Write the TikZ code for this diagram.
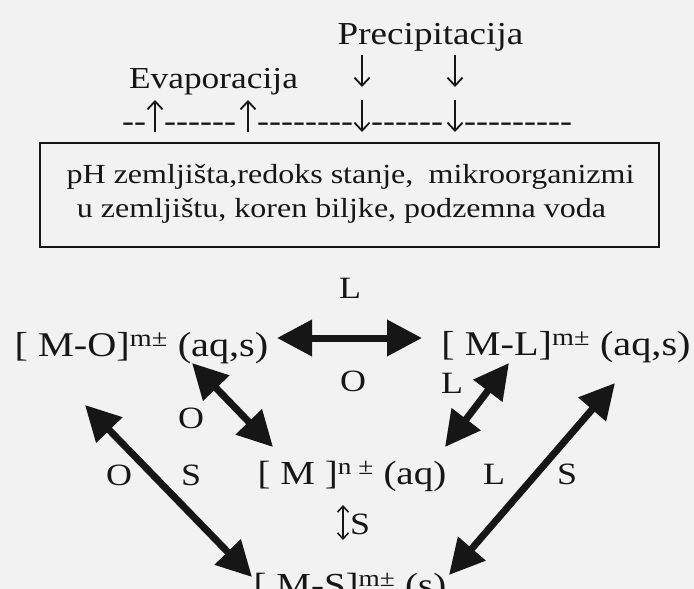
\documentclass[tikz,border=0pt]{standalone}
\usepackage{fontspec}
\setmainfont{Liberation Serif}[FakeStretch=1.16]
\usetikzlibrary{arrows.meta}
\definecolor{bgc}{RGB}{242,242,242}
\definecolor{ink}{RGB}{22,22,22}
\newcommand\hy{\mbox{-}}
\begin{document}
\begin{tikzpicture}[x=1pt,y=-1pt,
  lbl/.style={anchor=base,inner sep=0pt,text=ink,font=\fontsize{31}{33}\selectfont},
  spc/.style={anchor=base,inner sep=0pt,text=ink,font=\fontsize{34.7}{36}\selectfont},
  boxtext/.style={anchor=base,inner sep=0pt,text=ink,font=\fontsize{27.6}{29}\selectfont},
  dashes/.style={anchor=base west,inner sep=0pt,text=ink,font=\fontsize{31}{32}\selectfont},
  thin/.style={draw=ink,line width=1.8pt,-{Straight Barb[length=8pt,width=15pt]}},
  thinboth/.style={draw=ink,line width=1.6pt,{Straight Barb[length=6pt,width=11pt]}-{Straight Barb[length=6pt,width=11pt]}},
  big/.style={draw=ink,line width=7pt,{Triangle[length=35pt,width=35pt]}-{Triangle[length=35pt,width=35pt]}},
]
\useasboundingbox (0,0) rectangle (694,589);
\fill[bgc] (0,0) rectangle (694,589);
% top texts
\node[lbl,font=\fontsize{32}{34}\selectfont] (prec) at (430.5,45) {Precipitacija};
\node[lbl,font=\fontsize{30.5}{32}\selectfont] (evap) at (213.5,88) {Evaporacija};
% glyph-like arrows of the first two lines
\coordinate (p1t) at (362,55);  \coordinate (p1b) at (362,87);
\coordinate (p2t) at (455,55);  \coordinate (p2b) at (455,87);
\draw[thin] (p1t) -- (p1b);
\draw[thin] (p2t) -- (p2b);
% dashed line
\node[dashes] (s1) at (122,131) {\hy\hy};
\node[dashes] (s2) at (164,131) {\hy\hy\hy\hy\hy\hy};
\node[dashes] (s3) at (257,131) {\hy\hy\hy\hy\hy\hy\hy\hy};
\node[dashes] (s4) at (371,131) {\hy\hy\hy\hy\hy\hy};
\node[dashes] (s5) at (464,131) {\hy\hy\hy\hy\hy\hy\hy\hy\hy};
\coordinate (u1b) at (155,132); \coordinate (u1t) at (155,100);
\coordinate (u2b) at (248,132); \coordinate (u2t) at (248,100);
\coordinate (w1t) at (362,100); \coordinate (w1b) at (362,132);
\coordinate (w2t) at (455,100); \coordinate (w2b) at (455,132);
\draw[thin] (u1b) -- (u1t);
\draw[thin] (u2b) -- (u2t);
\draw[thin] (w1t) -- (w1b);
\draw[thin] (w2t) -- (w2b);
% box
\node[draw=ink,line width=2pt,minimum width=619pt,minimum height=104pt,inner sep=0pt] (box) at (349.5,195) {};
\node[boxtext] (t1) at (350.5,183) {pH zemljišta,redoks stanje,\hspace{0.55em}mikroorganizmi};
\node[boxtext] (t2) at (341.5,217) {u zemljištu, koren biljke, podzemna voda};
% species
\node[spc] (MO) at (141.5,356) {[ M-O]\textsuperscript{m±} (aq,s)};
\node[spc] (ML) at (566,355) {[ M-L]\textsuperscript{m±} (aq,s)};
\node[spc,font=\fontsize{33.6}{35}\selectfont] (M) at (352,484) {[ M ]\textsuperscript{n ±} (aq)};
\node[spc,font=\fontsize{33.6}{35}\selectfont] (MS) at (350,596) {[ M-S]\textsuperscript{m±} (s)};
% labels
\node[lbl] (lL) at (350,298) {L};
\node[lbl] (lO) at (353,391) {O};
\node[lbl] (lL2) at (452,393) {L};
\node[lbl] (lO2) at (191,428) {O};
\node[lbl] (lO3) at (119,485) {O};
\node[lbl] (lS3) at (191,485) {S};
\node[lbl] (lL4) at (494,484) {L};
\node[lbl] (lS4) at (567,484) {S};
\node[lbl] (uS) at (360,534) {S};
\coordinate (v1) at (343,505); \coordinate (v2) at (343,540);
\draw[thinboth] (v1) -- (v2);
% big double arrows
\coordinate (h1) at (277,338); \coordinate (h2) at (422,338);
\coordinate (a1) at (192,363); \coordinate (a2) at (273,447);
\coordinate (b1) at (509,363); \coordinate (b2) at (445,447);
\coordinate (c1) at (85,405);  \coordinate (c2) at (252,577);
\coordinate (e1) at (615,383); \coordinate (e2) at (449,575);
\draw[big] (h1) -- (h2);
\draw[big] (a1) -- (a2);
\draw[big] (b1) -- (b2);
\draw[big] (c1) -- (c2);
\draw[big] (e1) -- (e2);
\end{tikzpicture}
\end{document}
